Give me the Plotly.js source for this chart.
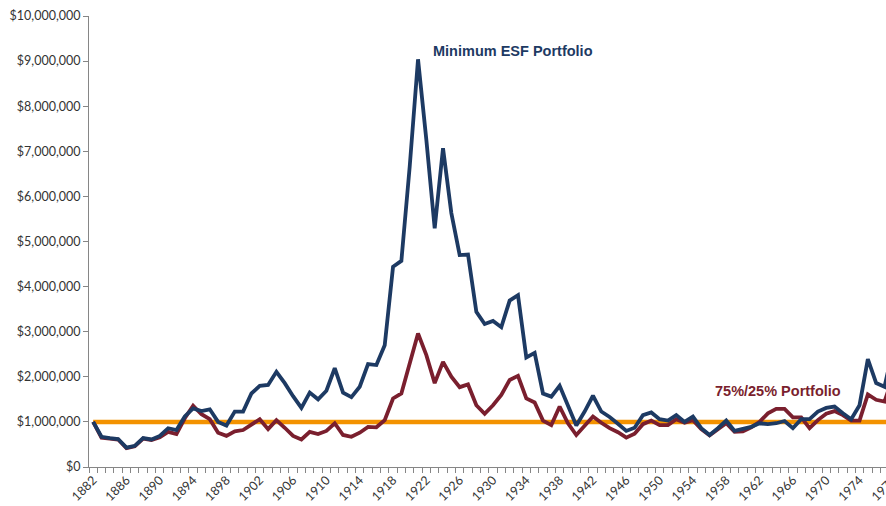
<!DOCTYPE html>
<html>
<head>
<meta charset="utf-8">
<script src="https://cdn.plot.ly/plotly-3.0.1.min.js"></script>
<style>
html,body{margin:0;padding:0;overflow:hidden;background:#fff;}
#chart{width:900px;height:520px;}
</style>
</head>
<body>
<div id="chart"></div>
<script>
const years = [1882,1883,1884,1885,1886,1887,1888,1889,1890,1891,1892,1893,1894,1895,1896,1897,1898,1899,
1900,1901,1902,1903,1904,1905,1906,1907,1908,1909,1910,1911,1912,1913,1914,1915,1916,1917,1918,1919,
1920,1921,1922,1923,1924,1925,1926,1927,1928,1929,1930,1931,1932,1933,1934,1935,1936,1937,1938,1939,
1940,1941,1942,1943,1944,1945,1946,1947,1948,1949,1950,1951,1952,1953,1954,1955,1956,1957,1958,1959,
1960,1961,1962,1963,1964,1965,1966,1967,1968,1969,1970,1971,1972,1973,1974,1975,1976,1977,1978];

const minEsf = [1000000,670000,640000,620000,430000,470000,640000,610000,690000,860000,820000,1120000,1300000,1240000,1280000,1000000,920000,1230000,
1230000,1630000,1800000,1820000,2110000,1860000,1570000,1310000,1650000,1500000,1690000,2190000,1650000,1550000,1780000,2280000,2260000,2700000,4440000,4570000,
6660000,9040000,7250000,5290000,7070000,5630000,4700000,4710000,3440000,3170000,3240000,3100000,3690000,3810000,2430000,2530000,1630000,1560000,1800000,1340000,
920000,1230000,1580000,1230000,1110000,960000,800000,870000,1150000,1210000,1060000,1030000,1150000,1000000,1120000,860000,710000,860000,1030000,800000,
840000,890000,970000,950000,970000,1020000,860000,1060000,1060000,1230000,1310000,1340000,1190000,1060000,1370000,2390000,1860000,1780000,2600000];

const p7525 = [1000000,650000,630000,610000,420000,460000,630000,600000,660000,780000,730000,1080000,1360000,1170000,1060000,760000,690000,790000,
820000,950000,1060000,840000,1040000,870000,690000,610000,780000,730000,800000,970000,710000,670000,760000,890000,880000,1040000,1520000,1630000,
2260000,2960000,2480000,1860000,2330000,2000000,1770000,1830000,1370000,1180000,1370000,1600000,1930000,2020000,1520000,1430000,1030000,930000,1340000,970000,
710000,920000,1120000,980000,860000,770000,650000,740000,950000,1030000,930000,930000,1060000,980000,1040000,840000,700000,840000,970000,780000,
790000,880000,1000000,1190000,1290000,1290000,1100000,1100000,860000,1040000,1180000,1240000,1150000,1030000,1030000,1610000,1490000,1450000,2000000];

const initialInvestment = 1000000;
const labelYears = [1882,1886,1890,1894,1898,1902,1906,1910,1914,1918,1922,1926,1930,1934,1938,1942,1946,1950,1954,1958,1962,1966,1970,1974,1978];
const yTicks = [0,1000000,2000000,3000000,4000000,5000000,6000000,7000000,8000000,9000000,10000000];

const tickFont = {family:'Lato, "Open Sans", sans-serif', size:12.5, color:'#333333'};

const traces = [
  {x:[years[0], years[years.length-1]], y:[initialInvestment, initialInvestment], mode:'lines',
   line:{color:'#F39200', width:4.5}, hoverinfo:'skip', showlegend:false},
  {x:years, y:p7525, mode:'lines', name:'75%/25% Portfolio',
   line:{color:'#7A1F2E', width:3.8}, showlegend:false},
  {x:years, y:minEsf, mode:'lines', name:'Minimum ESF Portfolio',
   line:{color:'#1D3A63', width:3.8}, showlegend:false}
];

const layout = {
  width:900, height:520,
  margin:{l:89, r:3, t:16, b:53},
  paper_bgcolor:'#fff', plot_bgcolor:'#fff',
  showlegend:false,
  xaxis:{
    range:[1881.5, 1978.5], showgrid:false, zeroline:false,
    showline:true, linecolor:'#868686', linewidth:1,
    tickmode:'array', tickvals:labelYears, ticktext:labelYears.map(String),
    ticks:'', tickangle:-45, tickfont:tickFont, automargin:false,
    minor:{tick0:1881.5, dtick:1, ticks:'outside', ticklen:5, tickcolor:'#868686', tickwidth:1, showgrid:false}
  },
  yaxis:{
    range:[0, 10000000], showgrid:false, zeroline:false,
    showline:true, linecolor:'#868686', linewidth:1,
    tickmode:'array', tickvals:yTicks, tickformat:'$,.0f',
    ticks:'outside', ticklen:5, tickcolor:'#868686', tickfont:tickFont, automargin:false
  },
  annotations:[
    {x:1922.55, y:9220000, xref:'x', yref:'y', xanchor:'left', yanchor:'middle', showarrow:false,
     text:'<b>Minimum ESF Portfolio</b>', font:{family:'"Liberation Sans", Arial, sans-serif', size:14.5, color:'#1D3A63'}},
    {x:1956.4, y:1685000, xref:'x', yref:'y', xanchor:'left', yanchor:'middle', showarrow:false,
     text:'<b>75%/25% Portfolio</b>', font:{family:'"Liberation Sans", Arial, sans-serif', size:14.5, color:'#7A1F2E'}}
  ]
};

Plotly.newPlot('chart', traces, layout, {displayModeBar:false, staticPlot:true});
</script>
</body>
</html>
